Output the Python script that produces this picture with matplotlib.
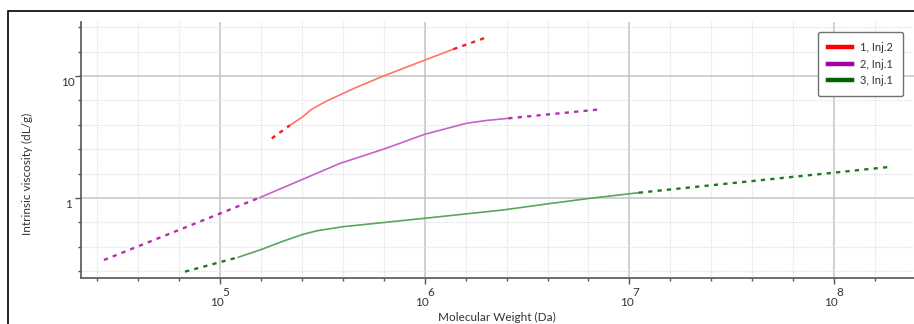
import matplotlib
matplotlib.use("Agg")
import matplotlib.pyplot as plt
from matplotlib.lines import Line2D
from matplotlib.patches import Rectangle
from matplotlib.ticker import FixedLocator, NullFormatter
import numpy as np

plt.rcParams['font.family'] = ['Lato', 'DejaVu Sans']

# === DATA ===
# series 1, Inj.2 (red)
red_lo_mw = [1.79e5, 2.20e5]
red_lo_iv = [3.08, 3.96]
red_mw = [2.20e5, 2.51e5, 2.80e5, 3.32e5, 4.5e5, 6.28e5, 1.0e6, 1.38e6]
red_iv = [3.96, 4.58, 5.33, 6.24, 7.9, 10.0, 13.5, 16.6]
red_hi_mw = [1.38e6, 2.01e6]
red_hi_iv = [16.6, 20.8]

# series 2, Inj.1 (magenta)
mag_lo_mw = [2.71e4, 1.57e5]
mag_lo_iv = [0.310, 1.01]
mag_mw = [1.57e5, 3.85e5, 6.28e5, 1.0e6, 1.60e6, 2.0e6, 2.56e6]
mag_iv = [1.01, 1.92, 2.51, 3.33, 4.10, 4.32, 4.50]
mag_hi_mw = [2.56e6, 7.18e6]
mag_hi_iv = [4.50, 5.33]

# series 3, Inj.1 (green)
grn_lo_mw = [6.75e4, 1.23e5]
grn_lo_iv = [0.249, 0.327]
grn_mw = [1.23e5, 1.57e5, 2.0e5, 2.55e5, 3.0e5, 4.0e5, 1.0e6, 2.42e6, 3.94e6, 6.43e6, 1.11e7]
grn_iv = [0.327, 0.375, 0.438, 0.504, 0.540, 0.582, 0.682, 0.798, 0.893, 0.994, 1.105]
grn_hi_mw = [1.11e7, 1.88e8]
grn_hi_iv = [1.105, 1.80]

legend_labels = ["1, Inj.2", "2, Inj.1", "3, Inj.1"]
legend_colors = ["#ff0000", "#a000a0", "#006400"]

x_exps = [5, 6, 7, 8]
y_major = [1, 10]
y_labels = ["1", "10"]

# === FIGURE ===
W, H = 914, 324
fig = plt.figure(figsize=(W / 100, H / 100), dpi=100)
ax = fig.add_axes([81 / W, 46 / H, 833 / W, 256 / H])
ax.set_xscale('log')
ax.set_yscale('log')
ax.set_xlim(10 ** 4.321, 10 ** 8.390)
ax.set_ylim(10 ** -0.656, 10 ** 1.443)

# ticks / grid: minor lines every 0.2 decade
ax.xaxis.set_major_locator(FixedLocator([10.0 ** e for e in x_exps]))
ax.xaxis.set_minor_locator(FixedLocator(10 ** np.arange(4.4, 8.39, 0.2)))
ax.yaxis.set_major_locator(FixedLocator(y_major))
ax.yaxis.set_minor_locator(FixedLocator(10 ** np.arange(-0.6, 1.45, 0.2)))
for axis in (ax.xaxis, ax.yaxis):
    axis.set_major_formatter(NullFormatter())
    axis.set_minor_formatter(NullFormatter())

ax.grid(which='major', color='#c4c4c4', lw=1.1)
ax.grid(which='minor', color='#e0e0e0', lw=0.9, linestyle=(0, (1, 1)))
ax.set_axisbelow(True)
for s in ('top', 'right'):
    ax.spines[s].set_visible(False)
for s in ('left', 'bottom'):
    ax.spines[s].set_color('#555555')
    ax.spines[s].set_linewidth(1.2)
ax.tick_params(which='major', length=4, width=1, color='#555555')
ax.tick_params(which='minor', length=2.5, width=1, color='#555555')

# tick labels drawn as "10" + raised exponent
for e in x_exps:
    ax.annotate("10", xy=(10.0 ** e, 0), xycoords=('data', 'axes fraction'),
                xytext=(-3, -25), textcoords='offset pixels',
                ha='center', va='center', fontsize=8.5, color='#333333')
    ax.annotate(str(e), xy=(10.0 ** e, 0), xycoords=('data', 'axes fraction'),
                xytext=(6, -14.5), textcoords='offset pixels',
                ha='center', va='center', fontsize=8.5, color='#333333')
for v, lab in zip(y_major, y_labels):
    ax.annotate(lab, xy=(0, v), xycoords=('axes fraction', 'data'),
                xytext=(-13, -6.5), textcoords='offset pixels',
                ha='center', va='center', fontsize=8.5, color='#333333')

# ---- curves ----
dot = (0, (1.8, 2.2))
series = [
    (red_lo_mw, red_lo_iv, red_mw, red_iv, red_hi_mw, red_hi_iv, '#ff7468', '#ff1a1a'),
    (mag_lo_mw, mag_lo_iv, mag_mw, mag_iv, mag_hi_mw, mag_hi_iv, '#c860c8', '#b030b0'),
    (grn_lo_mw, grn_lo_iv, grn_mw, grn_iv, grn_hi_mw, grn_hi_iv, '#5aa55a', '#1f7a1f'),
]
for lo_x, lo_y, x, y, hi_x, hi_y, c_solid, c_dot in series:
    ax.plot(lo_x, lo_y, color=c_dot, lw=1.7, linestyle=dot)
    ax.plot(x, y, color=c_solid, lw=1.2)
    ax.plot(hi_x, hi_y, color=c_dot, lw=1.7, linestyle=dot)

# legend
handles = [Line2D([], [], color=c, lw=3.2) for c in legend_colors]
leg = ax.legend(handles, legend_labels, loc='upper right',
                bbox_to_anchor=(903 / W, (H - 32) / H), bbox_transform=fig.transFigure,
                borderaxespad=0, fontsize=8, handlelength=2.2, handletextpad=0.7,
                labelspacing=0.5, borderpad=0.9, fancybox=True, framealpha=1,
                edgecolor='#707070')
leg.get_frame().set_linewidth(1.0)
for t in leg.get_texts():
    t.set_color('#333333')

# axis titles
fig.text(27 / W, 150 / H, "Intrinsic viscosity (dL/g)", rotation=90,
         ha='center', va='center', fontsize=8.5, color='#333333')
fig.text(497 / W, 1 / H, "Molecular Weight (Da)",
         ha='center', va='bottom', fontsize=8.5, color='#333333')

# outer panel border (runs off the bottom/right of the picture)
fig.add_artist(Rectangle((8 / W, -0.5), 1.5, (H - 11) / H + 0.5,
                         transform=fig.transFigure, fill=False,
                         edgecolor='black', lw=1.2, clip_on=False))

fig.savefig("out.png", dpi=100)
plt.close(fig)
